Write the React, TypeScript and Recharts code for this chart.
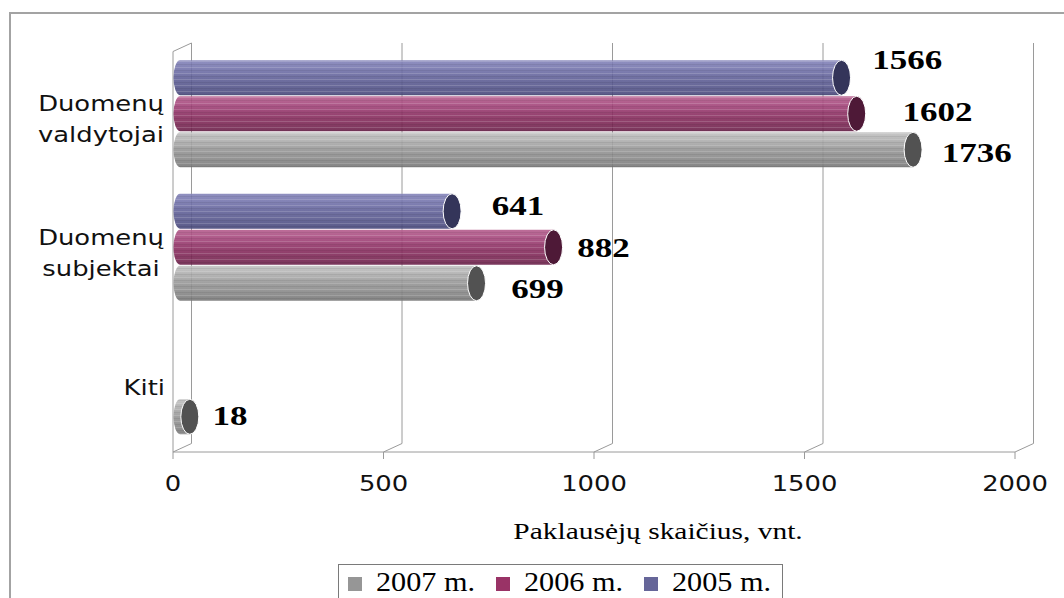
import React from "react";
import { BarChart, Bar, XAxis, YAxis, CartesianGrid, LabelList } from "recharts";

// kategorijos (eilutės atskirtos \n)
const CATEGORIES = ["Duomenų\nvaldytojai", "Duomenų\nsubjektai", "Kiti"];
const Y2005 = [1566, 641, null];
const Y2006 = [1602, 882, null];
const Y2007 = [1736, 699, 18];
const X_TICKS = [0, 500, 1000, 1500, 2000];
const AXIS_TITLE = "Paklausėjų skaičius, vnt.";

const SERIES = [
  { key: "y2005", name: "2005 m.", values: Y2005, legend: "#666699", cap: "#34355a",
    stops: ["#8585ba", "#7373ab", "#616198", "#57578c", "#47477a"] },
  { key: "y2006", name: "2006 m.", values: Y2006, legend: "#993366", cap: "#4e1937",
    stops: ["#b65e8e", "#a4467b", "#8d3063", "#7f2957", "#6a2049"] },
  { key: "y2007", name: "2007 m.", values: Y2007, legend: "#969696", cap: "#525252",
    stops: ["#c2c2c2", "#adadad", "#959595", "#898989", "#777777"] },
];

// label nudges [dx from bar end, dy from bar centre]
const LABEL_NUDGE: Record<string, number[][]> = {
  y2005: [[40, -18], [49, -6], [0, 0]],
  y2006: [[55, -2], [33, 0], [0, 0]],
  y2007: [[38, 3], [44, 5], [32, -1]],
};

const data = CATEGORIES.map((name, i) => {
  const row: any = { name };
  SERIES.forEach((s) => (row[s.key] = s.values[i]));
  return row;
});

const W = 1064;
const H = 598;
const PLOT_LEFT = 173;
const DX = 18.5; // 3d depth
const DY = 8.5;
const GRID = "#9a9a9a";
const SANS = "'DejaVu Sans', Verdana, sans-serif";
const SERIF = "'Liberation Serif', 'Times New Roman', serif";

const gridLine = (p: any) => {
  const { x1, y1, y2, index } = p;
  const isLeft = Math.abs(x1 - PLOT_LEFT) < 1;
  return (
    <g key={`gl-${index}-${x1}`}>
      <polyline
        points={`${x1 + DX},${y1 - DY} ${x1 + DX},${y2 - DY} ${x1},${y2}`}
        fill="none"
        stroke={GRID}
        strokeWidth={1}
      />
      {isLeft && (
        <polyline
          points={`${x1 + DX},${y1 - DY} ${x1},${y1} ${x1},${y2}`}
          fill="none"
          stroke={GRID}
          strokeWidth={1}
        />
      )}
    </g>
  );
};

const Cylinder = (props: any) => {
  const { x, y, width, height, s } = props;
  if (width == null || width <= 0.1) return null;
  const top = y - DY / 2;
  const bot = top + height;
  const ry = height / 2;
  const lx = x + 7;
  const rcx = x + width + DX / 2;
  const d = `M${lx},${top} L${rcx},${top} L${rcx},${bot} L${lx},${bot} A6.5,${ry} 0 0 1 ${lx},${top} Z`;
  return (
    <g>
      <path d={d} fill={`url(#grad-${s.key})`} fillOpacity={0.9} />
      <path d={d} fill="url(#stripes)" />
      <ellipse cx={rcx} cy={top + ry} rx={9} ry={ry} fill={s.cap} stroke="#ffffff" strokeWidth={1} />
    </g>
  );
};

const makeLabel = (key: string) => (p: any) => {
  const { x, y, width, height, value, index } = p;
  if (value == null) return null;
  const [dx, dy] = LABEL_NUDGE[key][index] || [35, 0];
  const tx = x + width + dx;
  const ty = y - DY / 2 + height / 2 + dy + 9.5;
  return (
    <text
      transform={`translate(${tx},${ty}) scale(1.25,1)`}
      fontFamily={SERIF}
      fontWeight="bold"
      fontSize={28}
      fill="#000"
    >
      {value}
    </text>
  );
};

const XTick = (p: any) => {
  const { x, y, payload } = p;
  return (
    <text
      transform={`translate(${x},${y + 30}) scale(1.23,1)`}
      textAnchor="middle"
      fontFamily={SANS}
      fontSize={21}
      fill="#111"
    >
      {payload.value}
    </text>
  );
};

const YTick = (p: any) => {
  const { y, payload } = p;
  const lines = String(payload.value).split("\n");
  if (lines.length === 1) {
    return (
      <text transform={`translate(165,${y + 10}) scale(1.23,1)`} textAnchor="end"
        fontFamily={SANS} fontSize={21} fill="#111">
        {lines[0]}
      </text>
    );
  }
  return (
    <g>
      {lines.map((l, i) => (
        <text key={i} transform={`translate(101,${y - 7 + i * 31}) scale(1.23,1)`} textAnchor="middle"
          fontFamily={SANS} fontSize={21} fill="#111">
          {l}
        </text>
      ))}
    </g>
  );
};

const AxisTitle = (p: any) => {
  const vb = p.viewBox || { x: 173, y: 452, width: 842 };
  return (
    <text
      transform={`translate(${vb.x + vb.width / 2 + 64},${vb.y + 87}) scale(1.28,1)`}
      textAnchor="middle"
      fontFamily={SERIF}
      fontSize={23}
      fill="#000"
    >
      {AXIS_TITLE}
    </text>
  );
};

const LegendBox = () => {
  const items = [...SERIES].reverse();
  return (
    <div style={{ position: "absolute", left: 338, top: 564, width: 443, height: 50,
      border: "1px solid #7a7a7a", background: "#fff" }}>
      <svg width={443} height={34} style={{ display: "block" }}>
        {items.map((s, i) => (
          <g key={s.key}>
            <rect x={9 + i * 148} y={12} width={14} height={14} fill={s.legend} />
            <text transform={`translate(${37 + i * 148},26) scale(1.12,1)`}
              fontFamily={SERIF} fontSize={27} fill="#000">
              {s.name}
            </text>
          </g>
        ))}
      </svg>
    </div>
  );
};

export default function App() {
  return (
    <div style={{ position: "fixed", left: 0, top: 0, width: W, height: H, overflow: "hidden", background: "#fff" }}>
      <div style={{ position: "absolute", left: 9, top: 12, width: 2000, height: 2000,
        border: "2px solid #a3a3a3" }} />
      <div style={{ position: "absolute", left: 0, top: 0 }}>
        <BarChart
          width={W}
          height={H}
          data={data}
          layout="vertical"
          margin={{ top: 51.5, right: 49, bottom: 106, left: 0 }}
          barCategoryGap={13}
          barGap={1}
        >
          <defs>
            {SERIES.map((s) => (
              <linearGradient key={s.key} id={`grad-${s.key}`} x1="0" y1="0" x2="0" y2="1">
                {s.stops.map((c, i) => (
                  <stop key={i} offset={i / (s.stops.length - 1)} stopColor={c} />
                ))}
              </linearGradient>
            ))}
            <pattern id="stripes" width={6} height={6} patternUnits="userSpaceOnUse">
              <rect x={0} y={1} width={6} height={1} fill="#ffffff" fillOpacity={0.16} />
              <rect x={0} y={4} width={6} height={1} fill="#000000" fillOpacity={0.07} />
            </pattern>
          </defs>
          <CartesianGrid horizontal={false} vertical={gridLine} />
          <XAxis
            type="number"
            domain={[0, 2000]}
            ticks={X_TICKS}
            interval={0}
            height={40}
            stroke={GRID}
            tickSize={7}
            tick={<XTick />}
            label={<AxisTitle />}
          />
          <YAxis
            type="category"
            dataKey="name"
            width={173}
            axisLine={false}
            tickLine={false}
            tick={<YTick />}
            interval={0}
          />
          {SERIES.map((s) => (
            <Bar
              key={s.key}
              dataKey={s.key}
              name={s.name}
              fill={s.legend}
              isAnimationActive={false}
              shape={(p: any) => <Cylinder {...p} s={s} />}
            >
              <LabelList dataKey={s.key} content={makeLabel(s.key)} />
            </Bar>
          ))}
        </BarChart>
      </div>
      <LegendBox />
    </div>
  );
}
